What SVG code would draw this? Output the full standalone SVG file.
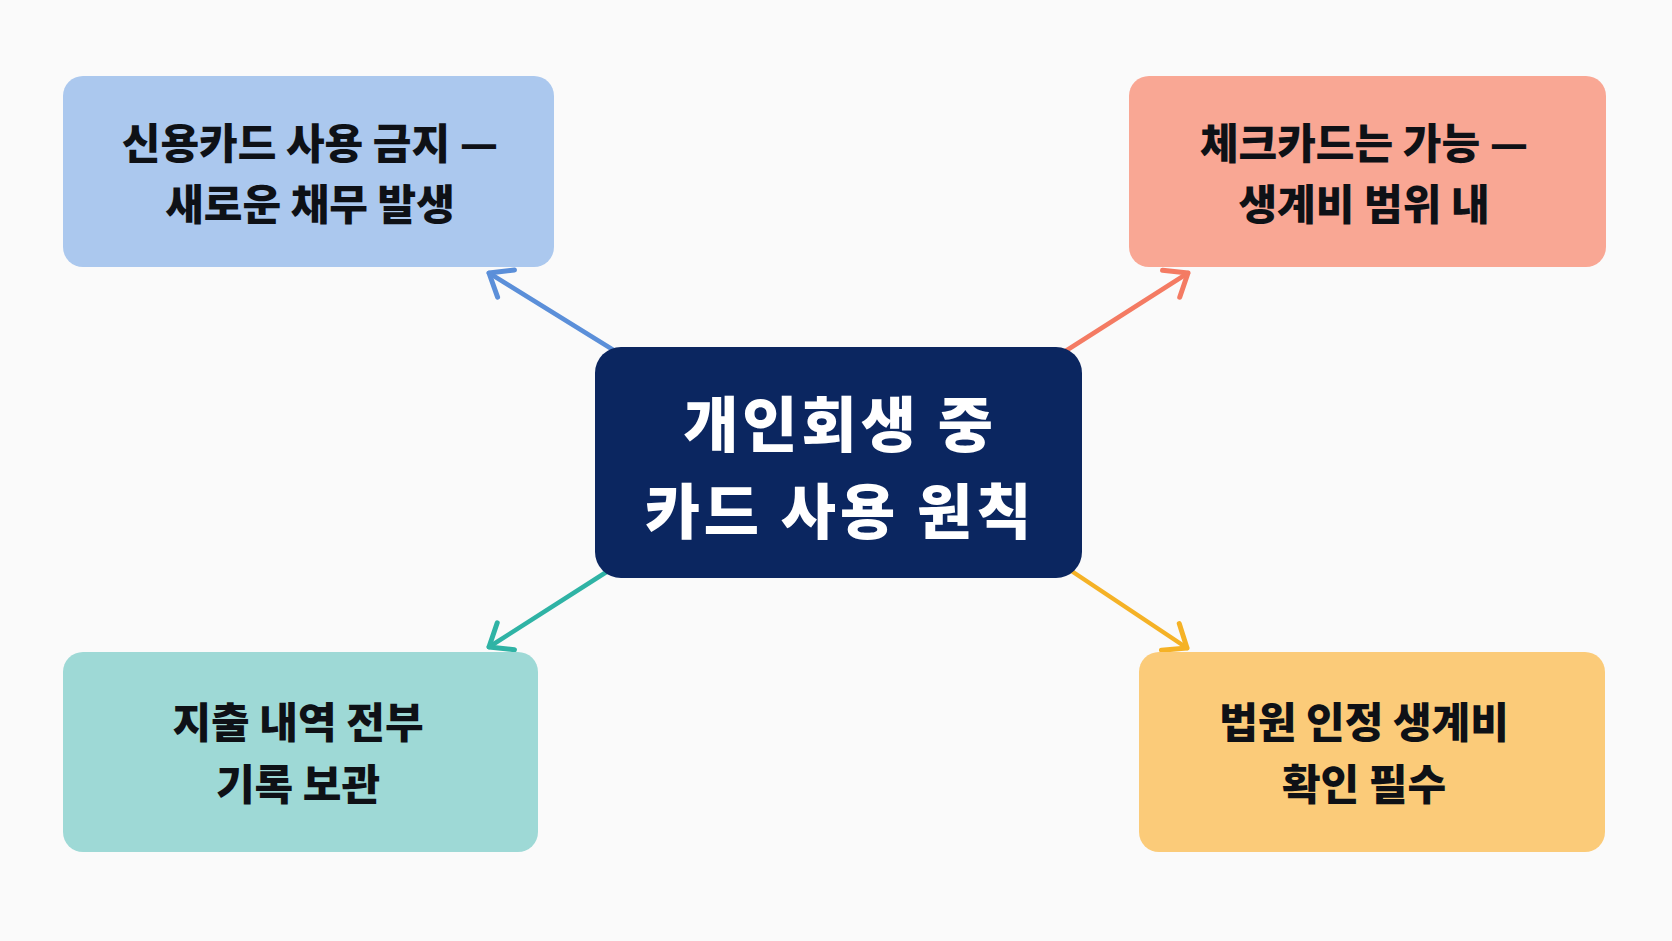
<svg xmlns="http://www.w3.org/2000/svg" width="1672" height="941" viewBox="0 0 1672 941">
<defs>
<style>
.lbl{font-family:"Noto Sans CJK KR","Noto Sans",sans-serif;font-weight:900;text-anchor:middle;dominant-baseline:central;}
.sm{font-size:42px;fill:#0e1116;}
.big{font-size:60px;fill:#ffffff;letter-spacing:4px;}
.con{fill:none;stroke-width:4.5;stroke-linecap:round;}
</style>
<marker id="mBlue" markerWidth="40" markerHeight="40" refX="0" refY="0" viewBox="-30 -20 40 40" orient="auto" markerUnits="userSpaceOnUse"><path d="M-20,-16 L0,0 L-20,16" fill="none" stroke="#5b8fd9" stroke-width="5" stroke-linecap="round" stroke-linejoin="round"/></marker>
<marker id="mRed" markerWidth="40" markerHeight="40" refX="0" refY="0" viewBox="-30 -20 40 40" orient="auto" markerUnits="userSpaceOnUse"><path d="M-20,-16 L0,0 L-20,16" fill="none" stroke="#f47b63" stroke-width="5" stroke-linecap="round" stroke-linejoin="round"/></marker>
<marker id="mTeal" markerWidth="40" markerHeight="40" refX="0" refY="0" viewBox="-30 -20 40 40" orient="auto" markerUnits="userSpaceOnUse"><path d="M-20,-16 L0,0 L-20,16" fill="none" stroke="#2fb3a5" stroke-width="5" stroke-linecap="round" stroke-linejoin="round"/></marker>
<marker id="mGold" markerWidth="40" markerHeight="40" refX="0" refY="0" viewBox="-30 -20 40 40" orient="auto" markerUnits="userSpaceOnUse"><path d="M-20,-16 L0,0 L-20,16" fill="none" stroke="#f5b226" stroke-width="5" stroke-linecap="round" stroke-linejoin="round"/></marker>
</defs>
<rect width="1672" height="941" fill="#fafafa"/>
<g id="connectors">
<line class="con" x1="615" y1="351" x2="489" y2="273" stroke="#5b8fd9" marker-end="url(#mBlue)"/>
<line class="con" x1="1064" y1="352" x2="1188" y2="273" stroke="#f47b63" marker-end="url(#mRed)"/>
<line class="con" x1="608" y1="571" x2="489" y2="647" stroke="#2fb3a5" marker-end="url(#mTeal)"/>
<line class="con" x1="1070" y1="570" x2="1187" y2="648" stroke="#f5b226" marker-end="url(#mGold)"/>
</g>
<g id="node-center">
<rect x="595" y="347" width="487" height="231" rx="26" fill="#0b2660"/>
<text class="lbl big" x="840" y="420">개인회생 중</text>
<text class="lbl big" x="840" y="507">카드 사용 원칙</text>
</g>
<g id="node-credit">
<rect x="63" y="76" width="491" height="191" rx="20" fill="#abc8ee"/>
<text class="lbl sm" x="310" y="140">신용카드 사용 금지 —</text>
<text class="lbl sm" x="310" y="201">새로운 채무 발생</text>
</g>
<g id="node-check">
<rect x="1129" y="76" width="477" height="191" rx="20" fill="#f9a794"/>
<text class="lbl sm" x="1364" y="140">체크카드는 가능 —</text>
<text class="lbl sm" x="1364" y="201">생계비 범위 내</text>
</g>
<g id="node-record">
<rect x="63" y="652" width="475" height="200" rx="20" fill="#9ed9d6"/>
<text class="lbl sm" x="298" y="719">지출 내역 전부</text>
<text class="lbl sm" x="298" y="781">기록 보관</text>
</g>
<g id="node-court">
<rect x="1139" y="652" width="466" height="200" rx="20" fill="#fbcb79"/>
<text class="lbl sm" x="1364" y="719">법원 인정 생계비</text>
<text class="lbl sm" x="1364" y="781">확인 필수</text>
</g>
</svg>
